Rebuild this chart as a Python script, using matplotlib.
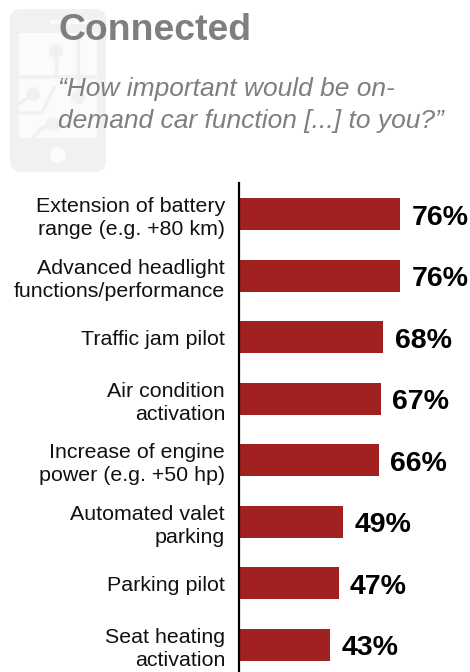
import matplotlib
matplotlib.use("Agg")
import matplotlib.pyplot as plt
from matplotlib.patches import FancyBboxPatch, Rectangle, Circle

labels = ["Extension of battery\nrange (e.g. +80 km)", "Advanced headlight\nfunctions/performance", "Traffic jam pilot",
          "Air condition\nactivation", "Increase of engine\npower (e.g. +50 hp)", "Automated valet\nparking", "Parking pilot",
          "Seat heating\nactivation"]
values = [76, 76, 68, 67, 66, 49, 47, 43]

W, H = 470, 672
plt.rcParams['font.family'] = ['Liberation Sans', 'DejaVu Sans']
fig = plt.figure(figsize=(W/100, H/100), dpi=100)
bg = fig.add_axes([0, 0, 1, 1]); bg.set_xlim(0, W); bg.set_ylim(H, 0); bg.axis('off')
body = '#f1f1f1'; screen = '#fbfbfb'; wire = '#f1f1f1'
bg.add_patch(FancyBboxPatch((10, 9), 96, 163, boxstyle="round,pad=0,rounding_size=11", fc=body, ec='none'))
bg.add_patch(Rectangle((19, 33), 78, 105, fc=screen, ec='none'))
bg.add_patch(Rectangle((19, 75), 78, 4, fc=body, ec='none'))
bg.add_patch(Rectangle((50, 20), 46, 4, fc=screen, ec='none'))
bg.add_patch(Circle((58, 155), 8, fc=screen, ec='none'))
for cx, cy in [(56, 51), (33, 94), (53, 124), (78, 97)]:
    bg.add_patch(Circle((cx, cy), 7, fc=wire, ec='none'))
bg.plot([56, 56], [51, 73], color=wire, lw=2.5)
bg.plot([78, 78], [36, 97], color=wire, lw=2.5)
bg.plot([19, 33], [104, 94], color=wire, lw=2.5)
bg.plot([19, 42, 54], [113, 113, 88], color=wire, lw=2.5)
bg.plot([33, 42, 53], [138, 128, 124], color=wire, lw=2.5)
bg.text(58, 31, "Connected", fontsize=26.9, fontweight='bold', color='#7f7f7f', va='center', ha='left')
bg.text(58, 89, "\u201cHow important would be on-", fontsize=19, style='italic', color='#7f7f7f', va='center')
bg.text(58, 121, "demand car function [...] to you?\u201d", fontsize=19, style='italic', color='#7f7f7f', va='center')

ax = fig.add_axes([239/W, 0, (W-239)/W, (H-183)/H])
ax.patch.set_alpha(0)
y = list(range(len(values)))
ax.barh(y, values, height=0.52, color='#a12020')
ax.set_ylim(7.44, -0.512)
ax.set_xlim(0, 231/2.12)
for s in ['top', 'right', 'bottom']:
    ax.spines[s].set_visible(False)
ax.spines['left'].set_linewidth(1.6)
ax.set_xticks([])
ax.set_yticks(y)
ax.set_yticklabels(labels, fontsize=15.4, linespacing=1.24, ha='right', color='#111111')
ax.tick_params(axis='y', length=0, pad=10)
for i, v in zip(y, values):
    ax.text(v + 5.4, i + 0.05, f"{v}%", fontsize=20.5, fontweight='bold', va='center', ha='left', color='black')
fig.savefig("out.png", dpi=100)
